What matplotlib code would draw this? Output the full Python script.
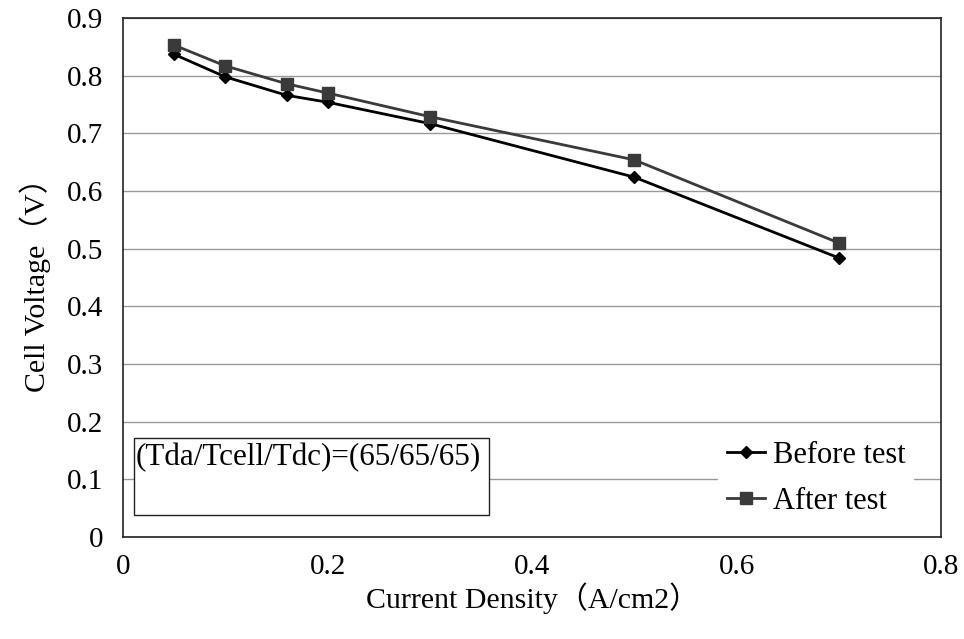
import matplotlib
matplotlib.use('Agg')
import matplotlib.pyplot as plt

# data
current_density = [0.05, 0.1, 0.16, 0.2, 0.3, 0.5, 0.7]
before_test = [0.837, 0.798, 0.766, 0.754, 0.717, 0.624, 0.484]
after_test = [0.853, 0.817, 0.786, 0.770, 0.729, 0.654, 0.510]

x_ticks = [0, 0.2, 0.4, 0.6, 0.8]
x_tick_labels = ['0', '0.2', '0.4', '0.6', '0.8']
y_ticks = [0, 0.1, 0.2, 0.3, 0.4, 0.5, 0.6, 0.7, 0.8, 0.9]
y_tick_labels = ['0', '0.1', '0.2', '0.3', '0.4', '0.5', '0.6', '0.7', '0.8', '0.9']

plt.rcParams['font.family'] = ['Liberation Serif', 'Noto Sans CJK JP']
plt.rcParams['font.size'] = 21

fig = plt.figure(figsize=(9.64, 6.39), dpi=100)
ax = fig.add_axes([0.1276, 0.1596, 0.8486, 0.8122])

ax.plot(current_density, before_test, color='black', lw=2.0, marker='D', ms=6,
        label='Before test')
ax.plot(current_density, after_test, color='#3a3a3a', lw=2.0, marker='s', ms=8,
        label='After test')

ax.set_xlim(0, 0.8)
ax.set_ylim(0, 0.9)
ax.set_xticks(x_ticks)
ax.set_xticklabels(x_tick_labels)
ax.set_yticks(y_ticks)
ax.set_yticklabels(y_tick_labels)
ax.tick_params(length=0, pad=14)
ax.tick_params(axis='x', pad=12)

ax.yaxis.grid(True, color='#999999', lw=1.0)
ax.set_axisbelow(True)
for s in ax.spines.values():
    s.set_linewidth(1.2)
    s.set_color('#222222')

ax.set_xlabel('Current Density（A/cm2）', labelpad=2, fontsize=21.5)
ax.set_ylabel('Cell Voltage（V）', labelpad=12, fontsize=21.5)

leg = ax.legend(loc='lower right', frameon=True, edgecolor='none', fancybox=False,
                fontsize=22, handlelength=1.25, handletextpad=0.25, labelspacing=0.55,
                borderpad=0.3, bbox_to_anchor=(0.986, -0.006))
leg.get_frame().set_facecolor('white')
leg.get_frame().set_alpha(1)

ax.text(0.016, 0.154, '(Tda/Tcell/Tdc)=(65/65/65)', transform=ax.transAxes,
        va='center', ha='left', fontsize=22.4, zorder=4)
box = plt.Rectangle((0.0134, 0.0424), 0.434, 0.1484, transform=ax.transAxes,
                    fill=True, facecolor='white', edgecolor='#222222', lw=1.0, zorder=2)
ax.add_patch(box)

fig.savefig('out.png', dpi=100)
